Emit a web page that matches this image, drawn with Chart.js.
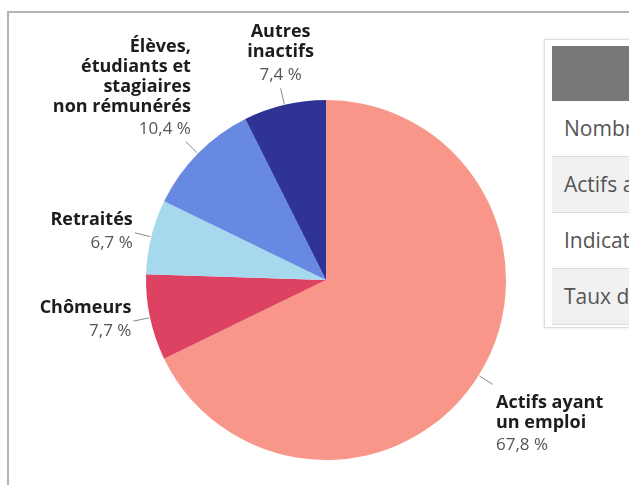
<!DOCTYPE html>
<html><head><meta charset="utf-8">
<script src="https://cdn.jsdelivr.net/npm/chart.js@4"></script>
<style>
html,body{margin:0;padding:0;background:#fff;overflow:hidden;width:629px;height:485px;font-family:"Open Sans",sans-serif;}
#frame{position:absolute;left:7px;top:11px;width:800px;height:600px;border-left:2px solid #b4b4b4;border-top:2px solid #b4b4b4;}
#wrap{position:absolute;left:0;top:0;width:629px;height:485px;}
#tbl{position:absolute;left:544px;top:39px;width:320px;height:289px;border:1px solid #dedede;box-shadow:0 0 3px rgba(0,0,0,0.12);background:#fff;box-sizing:border-box;}
#tbl .hd{position:absolute;left:7px;top:6px;right:0;height:55px;background:#787878;}
#tbl .row{position:absolute;left:7px;right:0;height:56px;border-bottom:1px solid #dcdcdc;box-sizing:border-box;color:#555;font-size:21px;line-height:55px;padding-left:12px;white-space:nowrap;}
</style></head>
<body>
<div id="frame"></div>
<div id="tbl">
  <div class="hd"></div>
  <div class="row" style="top:61px;background:#fff;">Nombre d'habitants</div>
  <div class="row" style="top:117px;background:#f1f1f1;">Actifs ayant un emploi</div>
  <div class="row" style="top:173px;background:#fff;">Indicateur de concentration</div>
  <div class="row" style="top:229px;background:#f1f1f1;">Taux de chômage</div>
</div>
<div id="wrap"><canvas id="c" width="629" height="485"></canvas></div>
<script>
const categories = [["Actifs ayant","un emploi"],["Chômeurs"],["Retraités"],["Élèves,","étudiants et","stagiaires","non rémunérés"],["Autres","inactifs"]];
const values = [67.8, 7.7, 6.7, 10.4, 7.4];
const colors = ["#F8968A","#DE4262","#A6D8EE","#6789E1","#2E3394"];
const placements = ["below-right","left","left","above-left","above"];

const fmt = v => String(v.toFixed(1)).replace('.', ',') + ' %';

const labelPlugin = {
  id: 'pieLabels',
  afterDatasetsDraw(chart) {
    const ctx = chart.ctx;
    const meta = chart.getDatasetMeta(0);
    meta.data.forEach((arc, i) => {
      const mid = (arc.startAngle + arc.endAngle) / 2;
      const r = arc.outerRadius;
      const cx = arc.x, cy = arc.y;
      const sx = cx + Math.cos(mid) * (r + 1), sy = cy + Math.sin(mid) * (r + 1);
      const ex = cx + Math.cos(mid) * (r + 17), ey = cy + Math.sin(mid) * (r + 17);
      ctx.save();
      ctx.strokeStyle = '#8a8a8a';
      ctx.lineWidth = 1;
      ctx.beginPath(); ctx.moveTo(sx, sy); ctx.lineTo(ex, ey); ctx.stroke();
      const lines = categories[i];
      const n = lines.length;
      const lh = 20, gap = 23;
      const pl = placements[i];
      let tx, align, pctY;
      if (pl === 'left') { tx = ex - 2; align = 'right'; pctY = ey + 10; }
      else if (pl === 'above-left') { tx = ex + 5; align = 'right'; pctY = ey - 12; }
      else if (pl === 'above') { tx = ex; align = 'center'; pctY = ey - 13; }
      else { tx = ex + 3; align = 'left'; pctY = ey + 18 + (n - 1) * lh + gap; }
      ctx.textAlign = align;
      ctx.textBaseline = 'middle';
      ctx.font = 'bold 18px "Open Sans"';
      ctx.fillStyle = '#1d1d1b';
      lines.forEach((t, k) => {
        ctx.fillText(t, tx, pctY - gap - (n - 1 - k) * lh);
      });
      ctx.font = '17px "Open Sans"';
      ctx.fillStyle = '#555555';
      ctx.fillText(fmt(values[i]), tx, pctY);
      ctx.restore();
    });
  }
};

new Chart(document.getElementById('c'), {
  type: 'pie',
  data: {
    labels: categories.map(l => l.join(' ')),
    datasets: [{ data: values, backgroundColor: colors, borderWidth: 0, hoverOffset: 0, offset: 0 }]
  },
  options: {
    responsive: false,
    animation: false,
    events: [],
    layout: { padding: { left: 146, right: 123, top: 100, bottom: 25 } },
    plugins: { legend: { display: false }, tooltip: { enabled: false } }
  },
  plugins: [labelPlugin]
});
</script>
</body></html>
